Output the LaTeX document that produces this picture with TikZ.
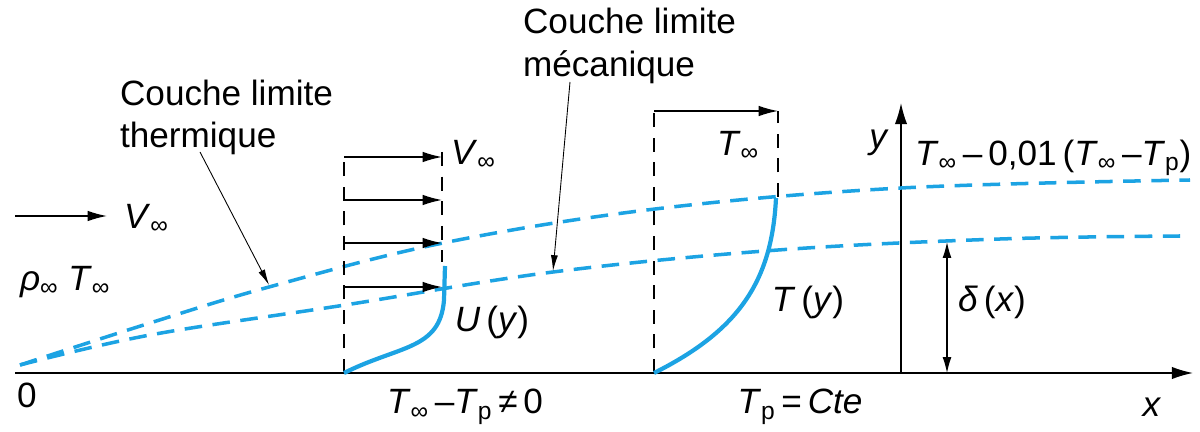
\documentclass[tikz,border=0pt]{standalone}
\usepackage{fontspec}
\setmainfont{Liberation Sans}
\usepackage{tikz}
\usetikzlibrary{arrows.meta,calc}
\definecolor{layer}{HTML}{1CA3E3}
\newcommand{\Tinf}{\textit{T}\textsubscript{∞}}
\newcommand{\Vinf}{\textit{V}\textsubscript{∞}}

\begin{document}
\begin{tikzpicture}[x=0.02cm,y=-0.02cm,
  font=\fontsize{20}{24}\selectfont,
  bl/.style={layer,line width=2pt,dash pattern=on 10pt off 6pt},
  prof/.style={layer,line width=2.4pt},
  guide/.style={black,line width=0.7pt,dash pattern=on 8pt off 6pt},
  vel/.style={-{Latex[length=11pt,width=6pt]},line width=0.8pt},
  lead/.style={-{Latex[length=9pt,width=4pt]},line width=0.5pt},
  axe/.style={-{Latex[length=12pt,width=7pt]},line width=0.8pt},
  lab/.style={inner sep=1pt}
]
\useasboundingbox (0,0) rectangle (1200,432);

% axes
\coordinate (o) at (15,373);
\coordinate (xend) at (1193,373);
\coordinate (yfoot) at (901,373);
\coordinate (ytop) at (901,103);
\draw[axe] (o) -- (xend);
\draw[axe] (yfoot) -- (ytop);
\node[lab] (zero) at (27,395) {0};
\node[lab] (xlab) at (1152,407) {\textit{x}};
\node[lab] (ylab) at (879,143) {\textit{y}};
\node[lab,anchor=west] (crit) at (913,158) {\Tinf\,–\,0,01\,(\Tinf\,–\textit{T}\textsubscript{p})};

% couches limites
\draw[bl] plot[smooth,tension=0.6] coordinates {(20,365) (150,323) (269,287)
  (443,243) (655,209) (901,188) (1190,180)};
\draw[bl] plot[smooth,tension=0.6] coordinates {(20,365) (150,335) (345,305)
  (553,272) (778,250) (1000,239) (1180,236)};
\coordinate (thpt) at (269,285);
\coordinate (mcpt) at (553,271);

% amont
\coordinate (va) at (15,216);
\coordinate (vb) at (107,216);
\draw[vel] (va) -- (vb);
\node[lab,anchor=west] (vinf) at (122,219) {\Vinf};
\node[lab,anchor=west] (rho) at (18,282) {\textit{ρ}\textsubscript{∞} \Tinf};

% profil de vitesse
\coordinate (u0) at (344,373);
\coordinate (u1) at (344,152);
\coordinate (u2) at (442,152);
\coordinate (u3) at (442,262);
\draw[guide] (u0) -- (u1);
\draw[guide] (u2) -- (u3);
\foreach \yy in {157,200,243,287}
  \draw[vel] (344,\yy) -- (442,\yy);
\draw[prof] (u0) .. controls (400,345) and (440,350) .. (444,300) -- (445,266);
\node[lab,anchor=west] (vinf2) at (449,155) {\Vinf};
\node[lab] (uy) at (492,322) {\textit{U}\,(\textit{y})};
\node[lab] (ecart) at (465,407) {\Tinf\,–\textit{T}\textsubscript{p}\,≠\,0};

% profil de temperature
\coordinate (t0) at (654,373);
\coordinate (t1) at (654,111);
\coordinate (t2) at (778,111);
\coordinate (t3) at (778,197);
\draw[guide] (t0) -- (t1);
\draw[guide] (t3) -- (t2);
\draw[vel] (t1) -- (t2);
\draw[prof] (t0) .. controls (740,330) and (772,280) .. (776,198);
\node[lab] (tinf) at (738,146) {\Tinf};
\node[lab] (ty) at (808,302) {\textit{T}\,(\textit{y})};
\node[lab] (tp) at (800,407) {\textit{T}\textsubscript{p}\,=\,\textit{Cte}};

% epaisseur
\coordinate (d0) at (947,373);
\coordinate (d1) at (947,242);
\draw[{Latex[length=9pt,width=5pt]}-{Latex[length=9pt,width=5pt]},line width=0.6pt] (d0) -- (d1);
\node[lab] (delta) at (992,302) {\textit{δ}\,(\textit{x})};

% legendes
\node[lab,anchor=west,align=left] (therm) at (118,117) {Couche limite\\thermique};
\node[lab,anchor=west,align=left] (meca) at (521,46) {Couche limite\\mécanique};
\coordinate (thfoot) at (200,152);
\coordinate (mcfoot) at (570,82);
\draw[lead] (thfoot) -- (thpt);
\draw[lead] (mcfoot) -- (mcpt);
\end{tikzpicture}
\end{document}
